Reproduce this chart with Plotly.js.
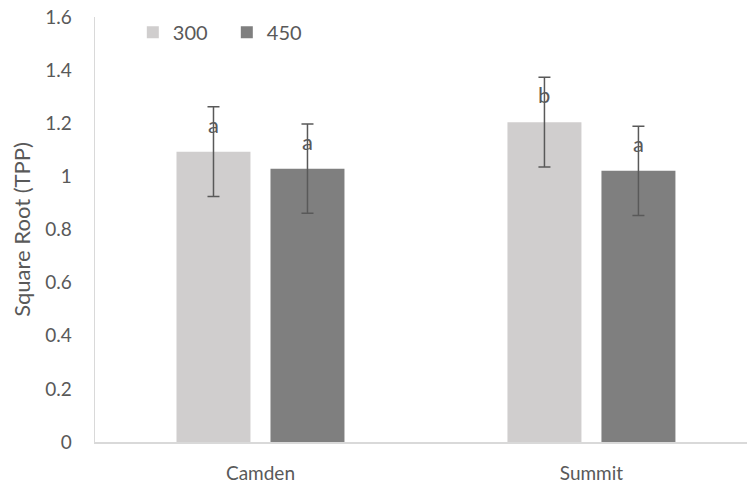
<!DOCTYPE html>
<html>
<head>
<meta charset="utf-8">
<script src="https://cdn.plot.ly/plotly-3.0.1.min.js"></script>
<style>html,body{margin:0;padding:0;background:#fff;}#chart{width:747px;height:485px;}</style>
</head>
<body>
<div id="chart"></div>
<script>
const categories = ["Camden", "Summit"];
const seriesNames = ["300", "450"];
const values300 = [1.093, 1.204];
const values450 = [1.029, 1.021];
const errors300 = [0.169, 0.169];
const errors450 = [0.168, 0.168];
const letters300 = ["a", "b"];
const letters450 = ["a", "a"];
const yTicks = [0, 0.2, 0.4, 0.6, 0.8, 1, 1.2, 1.4, 1.6];
const yTickText = ["0", "0.2", "0.4", "0.6", "0.8", "1", "1.2", "1.4", "1.6"];

const textColor = "#595959";
const fontFam = "Lato, 'Open Sans', sans-serif";

function barTrace(name, vals, errs, color) {
  return {
    type: "bar", name: name, x: categories, y: vals,
    marker: {color: color},
    error_y: {type: "data", array: errs, visible: true, color: "#595959", thickness: 1.5, width: 6},
    hoverinfo: "skip"
  };
}

const data = [
  barTrace(seriesNames[0], values300, errors300, "#D0CECE"),
  barTrace(seriesNames[1], values450, errors450, "#7F7F7F")
];

const annotations = [];
const groupShift = 47;
categories.forEach((c, i) => {
  annotations.push({x: c, y: values300[i] + errors300[i], xref: "x", yref: "y", text: letters300[i],
    showarrow: false, xshift: -groupShift, yanchor: "top", yshift: -2,
    font: {family: fontFam, size: 22, color: textColor}});
  annotations.push({x: c, y: values450[i] + errors450[i], xref: "x", yref: "y", text: letters450[i],
    showarrow: false, xshift: groupShift, yanchor: "top", yshift: -2,
    font: {family: fontFam, size: 22, color: textColor}});
});

const layout = {
  width: 747, height: 485,
  margin: {l: 95, r: 0, t: 17, b: 43},
  paper_bgcolor: "#fff", plot_bgcolor: "#fff",
  font: {family: fontFam, size: 19, color: textColor},
  barmode: "group",
  bargap: 0.432,
  bargroupgap: 0.213,
  showlegend: true,
  legend: {orientation: "h", x: 0.058, y: 1.01, xanchor: "left", yanchor: "top",
    font: {family: fontFam, size: 20, color: textColor}, itemwidth: 30,
    entrywidth: 49, entrywidthmode: "pixels", bgcolor: "rgba(0,0,0,0)"},
  xaxis: {
    type: "category", range: [-0.5, 1.47],
    showline: true, linecolor: "#D9D9D9", linewidth: 1.5,
    showgrid: false, zeroline: false, ticks: "",
    tickfont: {family: fontFam, size: 19, color: textColor},
    ticklabelstandoff: 14
  },
  yaxis: {
    range: [0, 1.6], tickvals: yTicks, ticktext: yTickText,
    showline: true, linecolor: "#D9D9D9", linewidth: 1.5,
    showgrid: false, zeroline: false, ticks: "",
    tickfont: {family: fontFam, size: 19, color: textColor},
    ticklabelstandoff: 18,
    title: {text: "Square Root (TPP)", font: {family: fontFam, size: 22, color: textColor}, standoff: 8}
  },
  annotations: annotations
};

Plotly.newPlot("chart", data, layout, {displayModeBar: false, staticPlot: true});
</script>
</body>
</html>
